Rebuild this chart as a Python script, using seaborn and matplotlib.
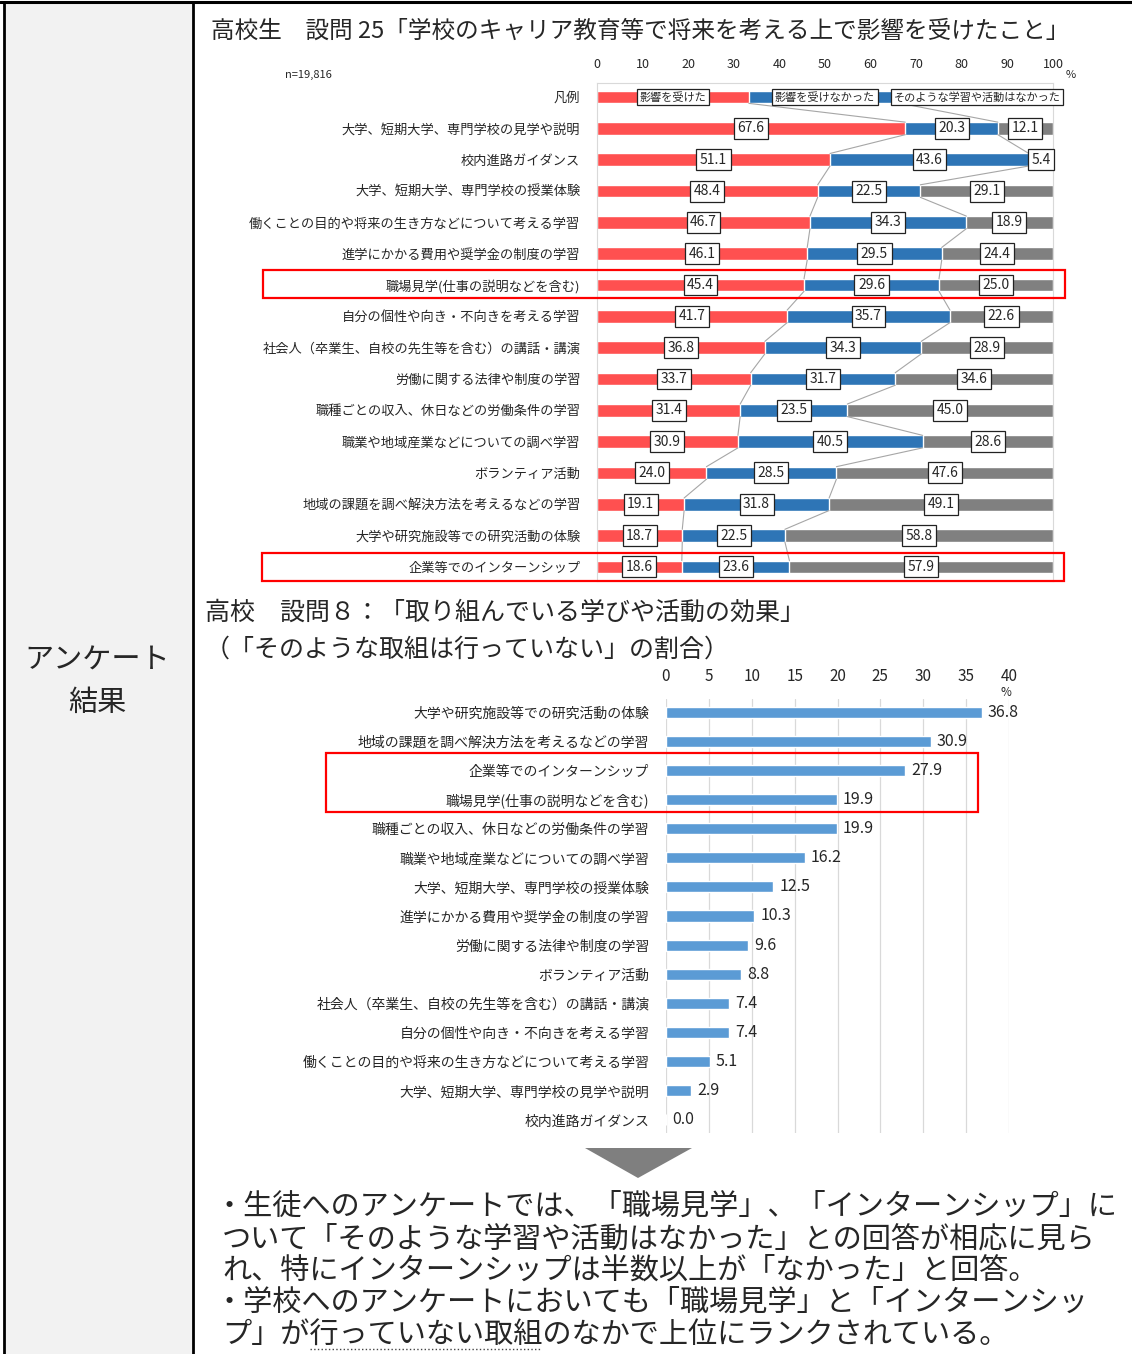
import matplotlib
matplotlib.use("Agg")
import matplotlib.pyplot as plt
from matplotlib.patches import Rectangle, Polygon
import pandas as pd
import seaborn as sns

# --- data ---------------------------------------------------------------
top_cats = ['大学、短期大学、専門学校の見学や説明', '校内進路ガイダンス', '大学、短期大学、専門学校の授業体験',
            '働くことの目的や将来の生き方などについて考える学習', '進学にかかる費用や奨学金の制度の学習',
            '職場見学(仕事の説明などを含む)', '自分の個性や向き・不向きを考える学習',
            '社会人（卒業生、自校の先生等を含む）の講話・講演', '労働に関する法律や制度の学習',
            '職種ごとの収入、休日などの労働条件の学習', '職業や地域産業などについての調べ学習',
            'ボランティア活動', '地域の課題を調べ解決方法を考えるなどの学習',
            '大学や研究施設等での研究活動の体験', '企業等でのインターンシップ']
influenced = [67.6, 51.1, 48.4, 46.7, 46.1, 45.4, 41.7, 36.8, 33.7, 31.4, 30.9, 24.0, 19.1, 18.7, 18.6]
not_influenced = [20.3, 43.6, 22.5, 34.3, 29.5, 29.6, 35.7, 34.3, 31.7, 23.5, 40.5, 28.5, 31.8, 22.5, 23.6]
no_activity = [12.1, 5.4, 29.1, 18.9, 24.4, 25.0, 22.6, 28.9, 34.6, 45.0, 28.6, 47.6, 49.1, 58.8, 57.9]
legend_names = ['影響を受けた', '影響を受けなかった', 'そのような学習や活動はなかった']
legend_row = [33.3, 33.3, 33.4]

bot_cats = ['大学や研究施設等での研究活動の体験', '地域の課題を調べ解決方法を考えるなどの学習',
            '企業等でのインターンシップ', '職場見学(仕事の説明などを含む)',
            '職種ごとの収入、休日などの労働条件の学習', '職業や地域産業などについての調べ学習',
            '大学、短期大学、専門学校の授業体験', '進学にかかる費用や奨学金の制度の学習',
            '労働に関する法律や制度の学習', 'ボランティア活動',
            '社会人（卒業生、自校の先生等を含む）の講話・講演', '自分の個性や向き・不向きを考える学習',
            '働くことの目的や将来の生き方などについて考える学習', '大学、短期大学、専門学校の見学や説明',
            '校内進路ガイダンス']
not_done = [36.8, 30.9, 27.9, 19.9, 19.9, 16.2, 12.5, 10.3, 9.6, 8.8, 7.4, 7.4, 5.1, 2.9, 0.0]

RED, BLUE, GRAY, LBLUE = '#ff5050', '#2e75b6', '#808080', '#5b9bd5'

sns.set_style("white")
plt.rcParams['font.family'] = ['Noto Sans CJK JP', 'DejaVu Sans']

W, H = 1132, 1354
fig = plt.figure(figsize=(W / 100, H / 100), dpi=100)


def ax_px(l, t, r, b, **kw):
    return fig.add_axes([l / W, 1 - b / H, (r - l) / W, (b - t) / H], **kw)


# --- top chart: stacked bars ----------------------------------------------
top = pd.DataFrame({'label': ['凡例'] + top_cats,
                    'a': [legend_row[0]] + influenced,
                    'b': [legend_row[1]] + not_influenced,
                    'c': [legend_row[2]] + no_activity})
top['c1'] = top['a']
top['c2'] = top['a'] + top['b']
top['c3'] = top['c2'] + top['c']

ax = ax_px(597, 83, 1053, 581)
bw = 0.4
for col, colr in [('c3', GRAY), ('c2', BLUE), ('c1', RED)]:
    sns.barplot(data=top, x=col, y='label', orient='h', color=colr, saturation=1,
                width=bw, errorbar=None, ax=ax)
ax.set_xlim(0, 100)
ax.set_ylim(15.45, -0.45)
ax.xaxis.tick_top()
ax.set_xticks(range(0, 101, 10))
ax.tick_params(axis='x', length=0, pad=9, labelsize=9)
ax.tick_params(axis='y', length=0, pad=12, labelsize=9.5)
ax.set_xlabel('')
ax.set_ylabel('')
for s in ax.spines.values():
    s.set_color('#d9d9d9')
    s.set_linewidth(0.8)

# series lines between rows
for i in range(len(top) - 1):
    for col in ('c1', 'c2'):
        ax.plot([top[col][i], top[col][i + 1]], [i + bw / 2, i + 1 - bw / 2],
                color='#a6a6a6', lw=0.8, zorder=1)

box = dict(boxstyle='square,pad=0.25', fc='white', ec='#222222', lw=0.9)
for i, r in top.iterrows():
    starts = [0, r['c1'], r['c2']]
    vals = [r['a'], r['b'], r['c']]
    for k in range(3):
        txt = legend_names[k] if i == 0 else f'{vals[k]:.1f}'
        ax.text(starts[k] + vals[k] / 2, i, txt, ha='center', va='center',
                fontsize=8 if i == 0 else 10, bbox=box, zorder=5, clip_on=False)

# --- bottom chart ---------------------------------------------------------
bot = pd.DataFrame({'label': bot_cats, 'v': not_done})
ax2 = ax_px(666, 699, 1009, 1133)
sns.barplot(data=bot, x='v', y='label', orient='h', color=LBLUE, saturation=1,
            width=0.38, errorbar=None, ax=ax2)
ax2.set_xlim(0, 40)
ax2.set_ylim(14.45, -0.45)
ax2.xaxis.tick_top()
ax2.set_xticks(range(0, 41, 5))
ax2.tick_params(axis='x', length=0, pad=10, labelsize=11)
ax2.tick_params(axis='y', length=0, pad=12, labelsize=10)
ax2.set_xlabel('')
ax2.set_ylabel('')
ax2.grid(axis='x', color='#d9d9d9', lw=0.9)
ax2.set_axisbelow(True)
for s in ax2.spines.values():
    s.set_visible(False)
for i, v in enumerate(not_done):
    ax2.text(v + 0.7, i, f'{v:.1f}', ha='left', va='center', fontsize=11.5)

# --- overlay: frame, titles, notes ---------------------------------------
ov = fig.add_axes([0, 0, 1, 1], zorder=10)
ov.set_xlim(0, W)
ov.set_ylim(H, 0)
ov.axis('off')
ov.patch.set_alpha(0)

ov.add_patch(Rectangle((4, 2), 189, H, fc='#f2f2f2', ec='none', zorder=0))
ov.plot([0, W], [2, 2], color='black', lw=2.2)
ov.plot([4, 4], [2, H], color='black', lw=2)
ov.plot([193, 193], [2, H], color='black', lw=2)

ov.text(97, 661, 'アンケート', ha='center', va='center', fontsize=21)
ov.text(97, 703, '結果', ha='center', va='center', fontsize=21)

ov.text(211, 31, '高校生　設問 25「学校のキャリア教育等で将来を考える上で影響を受けたこと」',
        ha='left', va='center', fontsize=17)
ov.text(285, 75, 'n=19,816', ha='left', va='center', fontsize=8)
ov.text(1066, 75, '%', ha='left', va='center', fontsize=8)

ov.text(205, 613, '高校　設問８：「取り組んでいる学びや活動の効果」', ha='left', va='center', fontsize=18)
ov.text(205, 650, '（「そのような取組は行っていない」の割合）', ha='left', va='center', fontsize=18)
ov.text(1006, 693, '%', ha='center', va='center', fontsize=8.5)

# red highlight boxes
for (x0, y0, x1, y1) in [(263, 270, 1065, 298), (262, 553, 1064, 581), (326, 753, 978, 812)]:
    ov.add_patch(Rectangle((x0, y0), x1 - x0, y1 - y0, fill=False, ec='#ff0000', lw=1.6))

ov.add_patch(Polygon([(585, 1148), (692, 1148), (638, 1178)], closed=True, fc='#7f7f7f', ec='none'))

notes = ['・生徒へのアンケートでは、「職場見学」、「インターンシップ」に',
         'ついて「そのような学習や活動はなかった」との回答が相応に見ら',
         'れ、特にインターンシップは半数以上が「なかった」と回答。',
         '・学校へのアンケートにおいても「職場見学」と「インターンシッ',
         'プ」が行っていない取組のなかで上位にランクされている。']
for k, line in enumerate(notes):
    ov.text(215 if line.startswith('・') else 222, 1207 + 32 * k, line,
            ha='left', va='center', fontsize=21)
ov.plot([310, 540], [1349, 1349], color='#444444', lw=1, ls=':')

fig.savefig('out.png', dpi=100)
